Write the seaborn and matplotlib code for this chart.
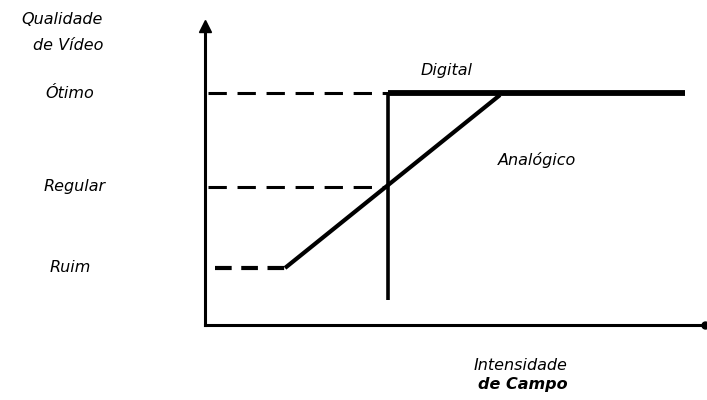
import matplotlib
matplotlib.use("Agg")
import matplotlib.pyplot as plt
import seaborn as sns
import pandas as pd

sns.set_style("white")
plt.rcParams['font.family'] = ['DejaVu Sans']
plt.rcParams['text.color'] = 'black'

# Quality levels (vertical position on the quality axis)
level_names = ["Ruim", "Regular", "Ótimo"]
level_values = [57, 138, 232]

# Analog curve: dashed weak-signal part, rising ramp, saturated top
analog_low_x = [10, 80]
analog_low_y = [57, 57]
analog_ramp_x = [80, 295]
analog_ramp_y = [57, 230]

# Digital curve: cliff at threshold then flat at top
digital_vert_x = [183, 183]
digital_vert_y = [25, 232]
top_x = [183, 480]
top_y = [232, 232]

# Reference dashed guides to the quality labels
guide_opt_x = [3, 183]
guide_opt_y = [232, 232]
guide_reg_x = [3, 183]
guide_reg_y = [138, 138]

fig = plt.figure(figsize=(7.07, 4.0), dpi=100)
ax = fig.add_axes([205/707, 75/400, 500/707, 302/400])
ax.set_xlim(0, 500)
ax.set_ylim(0, 302)

def seg(x, y, lw, dashes=None):
    df = pd.DataFrame({"x": x, "y": y})
    sns.lineplot(data=df, x="x", y="y", ax=ax, color="black", lw=lw,
                 sort=False, estimator=None)
    line = ax.lines[-1]
    line.set_solid_capstyle("butt")
    if dashes:
        line.set_dashes(dashes)
        line.set_dash_capstyle("butt")
    return line

seg(guide_opt_x, guide_opt_y, 2.2, (6, 3.5))
seg(guide_reg_x, guide_reg_y, 2.2, (6, 3.5))
seg(analog_low_x, analog_low_y, 3.0, (4, 2.3))
seg(analog_ramp_x, analog_ramp_y, 3.0)
seg(digital_vert_x, digital_vert_y, 2.6)
seg(top_x, top_y, 4.2)

ax.set_xlabel("")
ax.set_ylabel("")
ax.set_xticks([])
ax.set_yticks([])
for s in ["top", "right"]:
    ax.spines[s].set_visible(False)
for s in ["left", "bottom"]:
    ax.spines[s].set_linewidth(2.2)
    ax.spines[s].set_color("black")

# arrow head on y axis, dot at end of x axis
ax.plot([0], [299], marker="^", color="black", ms=9, clip_on=False)
ax.plot([500], [0], "o", color="black", ms=5, clip_on=False)

fs = 11.5
kw = dict(ha="center", va="center", style="italic", fontsize=fs, color="black")
fig.text(62/707, 1 - 20/400, "Qualidade", **kw)
fig.text(68/707, 1 - 46/400, "de Vídeo", **kw)
label_x = [70, 75, 70]
for name, v, lx in zip(level_names, level_values, label_x):
    fig.text(lx/707, (75 + v)/400, name, **kw)

fig.text(447/707, 1 - 70/400, "Digital", **kw)
fig.text(537/707, 1 - 160/400, "Analógico", **kw)
fig.text(520/707, 1 - 365/400, "Intensidade", **kw)
fig.text(523/707, 1 - 384/400, "de Campo", fontweight="bold", **kw)

fig.savefig("out.png", dpi=100)
